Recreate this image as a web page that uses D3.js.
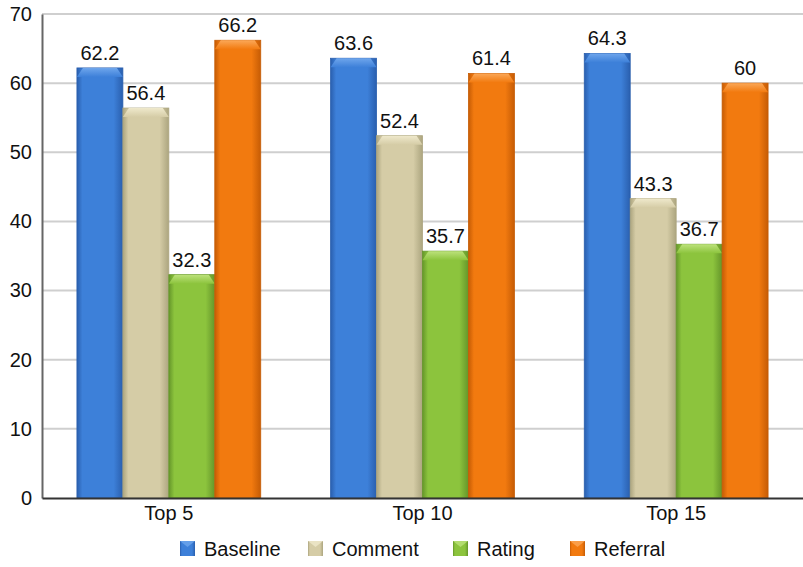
<!DOCTYPE html>
<html lang="en">
<head>
    <meta charset="UTF-8">
    <title>Top-N bar chart</title>
    <script src="https://cdn.jsdelivr.net/npm/d3@7"></script>
    <style>
        body{
            margin:0px;
            background:white;
        }
        text{
            font-family: "Liberation Sans", Arial, sans-serif;
            fill:#111;
        }
    </style>
</head>
<body>
    <svg id="chart"></svg>
</body>
<script>
    // data
    const groups = ['Top 5','Top 10','Top 15'];
    const series = ['Baseline','Comment','Rating','Referral'];
    const baseline = [62.2, 63.6, 64.3];
    const comment  = [56.4, 52.4, 43.3];
    const rating   = [32.3, 35.7, 36.7];
    const referral = [66.2, 61.4, 60];
    const yTicks = [0,10,20,30,40,50,60,70];

    const colors = {
        'Baseline':{mid:'#3d80d9', dark:'#2a5fae', light:'#6fa6ec'},
        'Comment': {mid:'#d5cca6', dark:'#aca57f', light:'#efe9cc'},
        'Rating':  {mid:'#8cc43d', dark:'#65962a', light:'#bde27c'},
        'Referral':{mid:'#f27a0f', dark:'#c65c05', light:'#fba858'}
    };

    const values = {'Baseline':baseline,'Comment':comment,'Rating':rating,'Referral':referral};
    const rows = groups.map((g,i) => ({group:g, vals: series.map(s => ({key:s, value:values[s][i]}))}));

    const w = 803, h = 567;
    const m = {top:14, right:0, bottom:69, left:42};
    const fs = '20px';

    const svg = d3.select('#chart').attr('width',w).attr('height',h);

    // gradients, one per series
    const defs = svg.append('defs');
    series.forEach(s => {
        let c = colors[s];
        let g = defs.append('linearGradient').attr('id','grad-'+s)
            .attr('x1','0%').attr('x2','100%').attr('y1','0%').attr('y2','0%');
        g.append('stop').attr('offset','0%').attr('stop-color',c.dark);
        g.append('stop').attr('offset','12%').attr('stop-color',c.mid);
        g.append('stop').attr('offset','80%').attr('stop-color',c.mid);
        g.append('stop').attr('offset','100%').attr('stop-color',c.dark);
        let t = defs.append('linearGradient').attr('id','top-'+s)
            .attr('x1','0%').attr('x2','0%').attr('y1','0%').attr('y2','100%');
        t.append('stop').attr('offset','0%').attr('stop-color',c.light);
        t.append('stop').attr('offset','100%').attr('stop-color',c.mid);
    });

    const x0 = d3.scaleBand().domain(groups).range([m.left, w-m.right]).padding(0);
    const x1 = d3.scaleBand().domain(series).range([0, x0.bandwidth()]).paddingInner(0).paddingOuter(0.76);
    const y = d3.scaleLinear().domain([0,70]).range([h-m.bottom, m.top]);

    // gridlines
    svg.append('g').selectAll('line').data(yTicks.filter(d => d>0)).join('line')
        .attr('x1',m.left).attr('x2',w-m.right)
        .attr('y1',d => y(d)).attr('y2',d => y(d))
        .attr('stroke','#cfcfcf').attr('stroke-width',2);

    // y axis
    const yAxis = svg.append('g').attr('transform','translate('+m.left+',0)')
        .call(d3.axisLeft(y).tickValues(yTicks).tickSize(0).tickPadding(10));
    yAxis.select('.domain').attr('stroke','#666').attr('stroke-width',2);
    yAxis.selectAll('text').attr('font-size',fs).style('font-family','"Liberation Sans", Arial, sans-serif').attr('fill','#111');

    // bars
    const grp = svg.append('g').selectAll('g').data(rows).join('g')
        .attr('transform',d => 'translate('+x0(d.group)+',0)');

    const bar = grp.selectAll('g').data(d => d.vals).join('g');
    bar.append('rect')
        .attr('x',d => x1(d.key))
        .attr('y',d => y(d.value))
        .attr('width',x1.bandwidth())
        .attr('height',d => y(0)-y(d.value))
        .attr('fill',d => 'url(#grad-'+d.key+')')
        .attr('stroke',d => colors[d.key].dark).attr('stroke-width',0.8);
    // bevelled top
    bar.append('path')
        .attr('d',d => {
            let x = x1(d.key), bw = x1.bandwidth(), yt = y(d.value), b = 6;
            return 'M'+x+','+(yt+b+3)+' L'+(x+b)+','+yt+' L'+(x+bw-b)+','+yt+' L'+(x+bw)+','+(yt+b+3)+' Z';
        })
        .attr('fill',d => 'url(#top-'+d.key+')');
    bar.append('text')
        .attr('x',d => x1(d.key)+x1.bandwidth()/2)
        .attr('y',d => y(d.value)-8)
        .attr('text-anchor','middle')
        .attr('font-size',fs)
        .text(d => d.value);

    // x axis
    const xAxis = svg.append('g').attr('transform','translate(0,'+y(0)+')')
        .call(d3.axisBottom(x0).tickSize(0).tickPadding(8));
    xAxis.select('.domain').attr('stroke','#333').attr('stroke-width',2);
    xAxis.selectAll('text').attr('font-size',fs).style('font-family','"Liberation Sans", Arial, sans-serif').attr('fill','#111');

    // legend
    const legX = [180, 308, 453, 570];
    const leg = svg.append('g').selectAll('g').data(series).join('g')
        .attr('transform',(d,i) => 'translate('+legX[i]+',541)');
    leg.append('rect').attr('width',15).attr('height',15)
        .attr('fill',d => 'url(#grad-'+d+')');
    leg.append('path').attr('d','M0,0 L7.5,6 L15,0 Z').attr('fill',d => colors[d].light).attr('opacity',0.8);
    leg.append('text').attr('x',24).attr('y',15).attr('font-size',fs).text(d => d);
</script>
</html>
